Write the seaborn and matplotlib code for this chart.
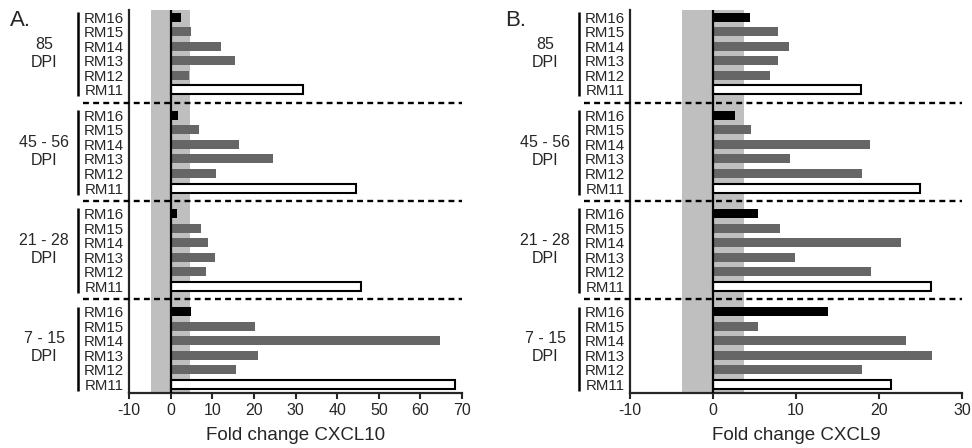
import matplotlib
matplotlib.use('Agg')  # headless

import matplotlib.pyplot as plt
import matplotlib.transforms as mtransforms
import seaborn as sns
import pandas as pd

# ---- data (groups / animals listed top to bottom) ----
groups = ['85\nDPI', '45 - 56\nDPI', '21 - 28\nDPI', '7 - 15\nDPI']
animals = ['RM16', 'RM15', 'RM14', 'RM13', 'RM12', 'RM11']

cxcl10 = [
    [2.5, 4.8, 12.1, 15.5, 4.3, 31.9],
    [1.8, 6.7, 16.5, 24.7, 11.0, 44.5],
    [1.6, 7.3, 9.0, 10.6, 8.4, 45.7],
    [5.0, 20.3, 64.7, 21.1, 15.8, 68.4],
]
cxcl9 = [
    [4.4, 7.8, 9.1, 7.8, 6.9, 17.8],
    [2.6, 4.6, 18.9, 9.25, 17.9, 24.9],
    [5.4, 8.05, 22.6, 9.9, 19.0, 26.3],
    [13.8, 5.4, 23.2, 26.4, 17.9, 21.5],
]

# ---- style ----
sns.set_style('ticks')
plt.rcParams['font.family'] = ['Liberation Sans', 'DejaVu Sans']
plt.rcParams['axes.unicode_minus'] = False

bar_colors = {'RM16': '#000000', 'RM15': '#666666', 'RM14': '#666666',
              'RM13': '#666666', 'RM12': '#666666', 'RM11': '#ffffff'}
GROUP_STEP = 6.75   # rows per group incl. gap


def make_frame(values):
    rows = []
    ng, na = len(groups), len(animals)
    for gi, g in enumerate(groups):
        for ai, a in enumerate(animals):
            rows.append({'group': g, 'animal': a, 'value': values[gi][ai],
                         'pos': (ng - 1 - gi) * GROUP_STEP + (na - 1 - ai)})
    return pd.DataFrame(rows)


def draw_panel(ax, values, xlabel, xmax, xticks, band):
    df = make_frame(values)
    ax.axvspan(-band, band, color='#bfbfbf', lw=0, zorder=0)
    sns.barplot(data=df, x='value', y='pos', hue='animal', palette=bar_colors,
                orient='h', native_scale=True, dodge=False, width=0.62,
                errorbar=None, legend=False, ax=ax, linewidth=0, zorder=2)
    for cont in ax.containers:
        for bar in cont:
            if bar.get_facecolor()[0] > 0.9:
                bar.set_edgecolor('black')
                bar.set_linewidth(1.5)
    ax.axvline(0, color='black', lw=1.6, zorder=3)

    top = df['pos'].max()
    ax.set_ylim(-0.6, top + 0.5)
    ax.set_xlim(-10, xmax)
    ax.set_xticks(xticks)
    ax.set_yticks(df['pos'], df['animal'])
    ax.tick_params(axis='y', length=0, pad=4, labelsize=10.8)
    ax.tick_params(axis='x', length=4.5, width=1.5, labelsize=11.5, pad=3)
    ax.set_xlabel(xlabel, fontsize=13.5, labelpad=6)
    ax.set_ylabel('')
    sns.despine(ax=ax)
    for s in ['left', 'bottom']:
        ax.spines[s].set_linewidth(1.6)

    trans = mtransforms.blended_transform_factory(ax.transAxes, ax.transData)
    na = len(animals)
    for gi, g in enumerate(groups):
        gtop = df.loc[df['group'] == g, 'pos'].max()
        gbot = gtop - (na - 1)
        ax.plot([-0.154, -0.154], [gtop + 0.35, gbot - 0.45], transform=trans,
                color='black', lw=1.8, clip_on=False, solid_capstyle='butt')
        ax.text(-0.255, (gtop + gbot) / 2, g, transform=trans, ha='center',
                va='center', fontsize=11.5, linespacing=1.25)
        if gi > 0:
            ydash = gtop + (GROUP_STEP - (na - 1)) / 2
            ax.plot([-0.138, 1.0], [ydash, ydash], transform=trans,
                    color='black', lw=1.7, ls=(0, (2.5, 1.8)), clip_on=False,
                    zorder=4)


fig = plt.figure(figsize=(9.72, 4.48), dpi=100)
ax1 = fig.add_axes([129 / 972, 55 / 448, 333 / 972, 383 / 448])
ax2 = fig.add_axes([630 / 972, 55 / 448, 332 / 972, 383 / 448])

draw_panel(ax1, cxcl10, 'Fold change CXCL10', 70, range(-10, 71, 10), 4.6)
draw_panel(ax2, cxcl9, 'Fold change CXCL9', 30, [-10, 0, 10, 20, 30], 3.7)

fig.text(10 / 972, 0.955, 'A.', fontsize=16, va='center', ha='left')
fig.text(505 / 972, 0.955, 'B.', fontsize=16, va='center', ha='left')

fig.savefig('out.png', dpi=100)
plt.close(fig)
